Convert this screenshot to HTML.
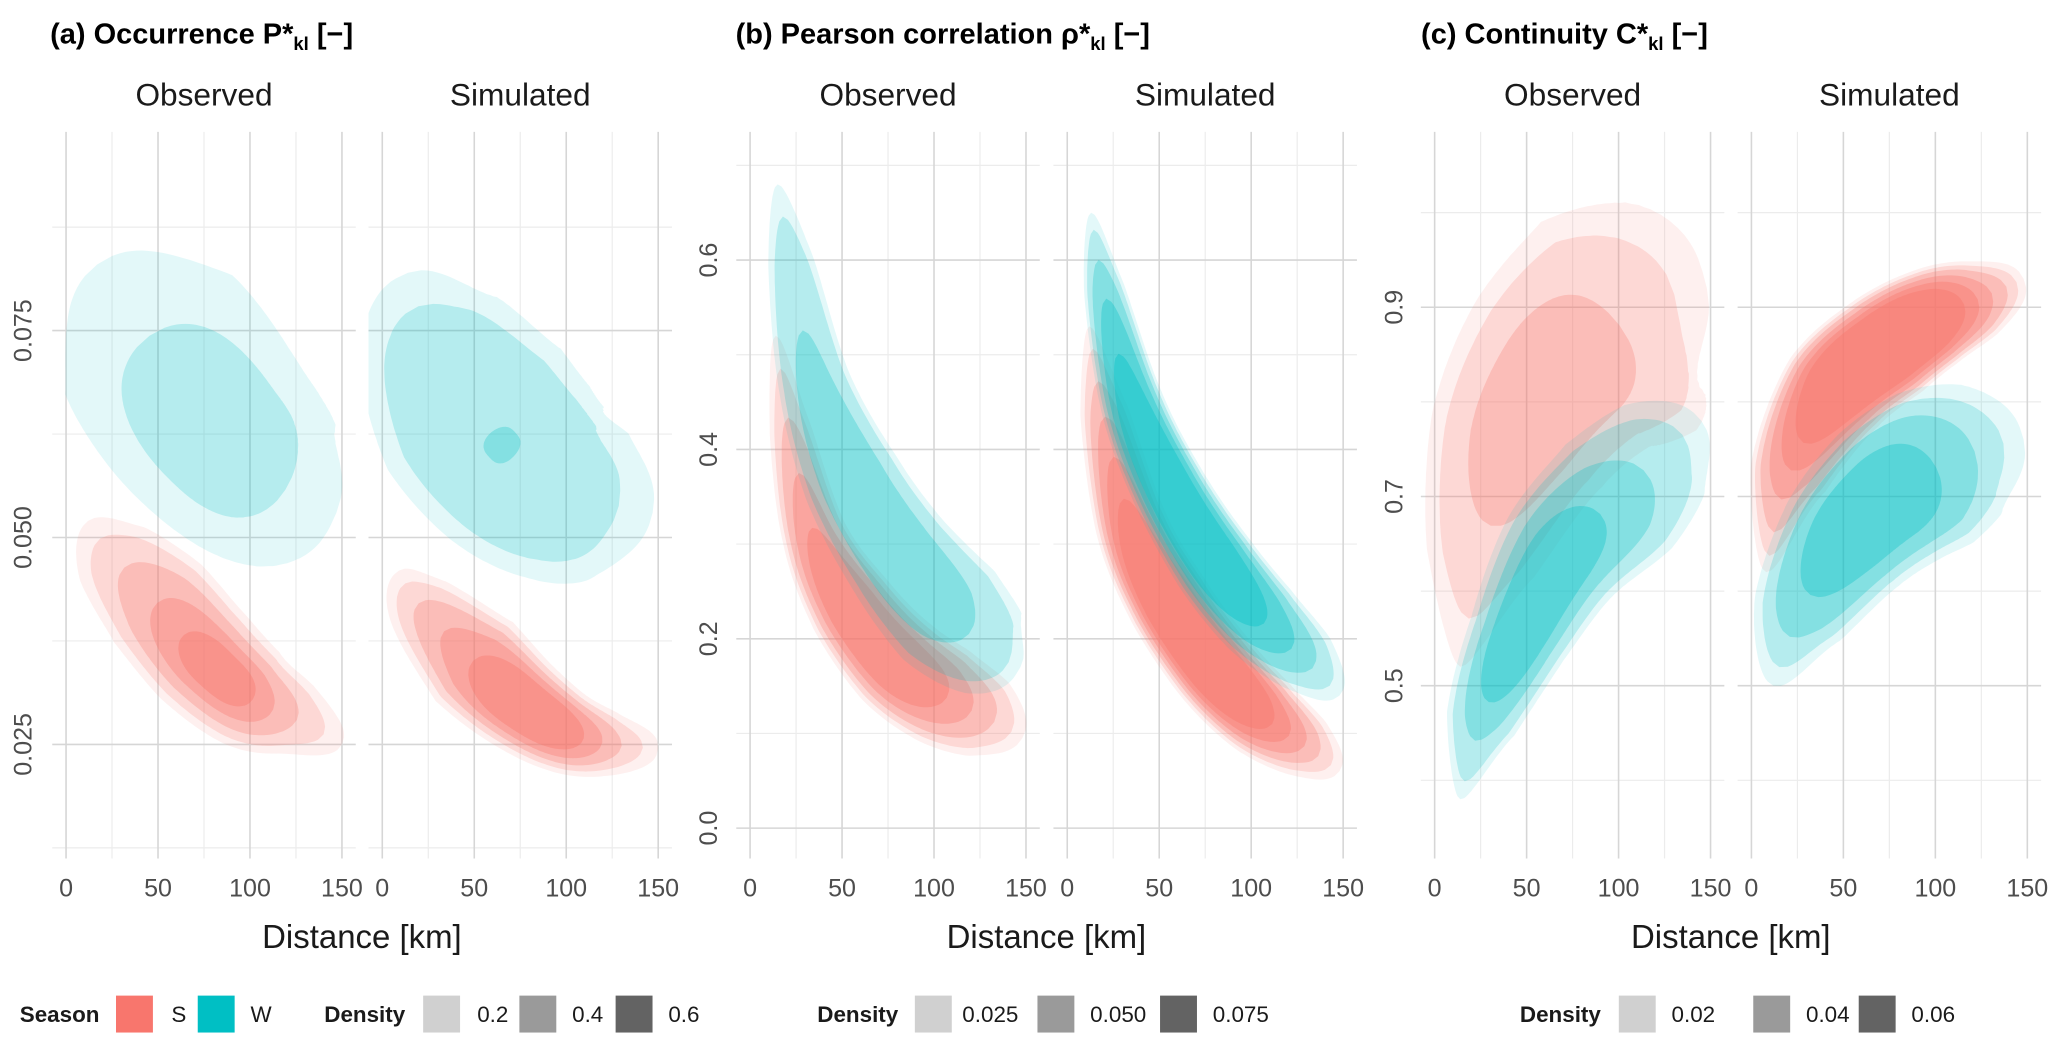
<!DOCTYPE html>
<html><head><meta charset="utf-8"><style>
html,body{margin:0;padding:0;background:#fff;}
svg{display:block;font-family:"Liberation Sans",Arial,sans-serif;}
</style></head><body>
<svg id="chart" width="2067" height="1051" viewBox="0 0 1568 797" preserveAspectRatio="none" xmlns="http://www.w3.org/2000/svg">
<rect x="0" y="0" width="1568" height="797" fill="#fff"/>
<g id="grid"></g><g id="marks"></g><g id="labels"></g>
<text x="38" y="33" font-size="22" font-weight="bold">(a) Occurrence P*<tspan font-size="14" dy="5">kl</tspan><tspan dy="-5"> [−]</tspan></text>
<text x="558" y="33" font-size="22" font-weight="bold">(b) Pearson correlation ρ*<tspan font-size="14" dy="5">kl</tspan><tspan dy="-5"> [−]</tspan></text>
<text x="1078" y="33" font-size="22" font-weight="bold">(c) Continuity C*<tspan font-size="14" dy="5">kl</tspan><tspan dy="-5"> [−]</tspan></text>
<g font-size="17" fill="#1a1a1a">
<text x="15" y="775" font-weight="bold">Season</text>
<rect x="88" y="755" width="28" height="28" fill="#F8766D"/>
<text x="130" y="775">S</text>
<rect x="150" y="755" width="28" height="28" fill="#00BFC4"/>
<text x="190" y="775">W</text>
<text x="246" y="775" font-weight="bold">Density</text>
<rect x="321" y="755" width="28" height="28" fill="#d0d0d0"/>
<text x="362" y="775">0.2</text>
<rect x="394" y="755" width="28" height="28" fill="#9a9a9a"/>
<text x="434" y="775">0.4</text>
<rect x="467" y="755" width="28" height="28" fill="#636363"/>
<text x="507" y="775">0.6</text>
<text x="620" y="775" font-weight="bold">Density</text>
<rect x="694" y="755" width="28" height="28" fill="#d0d0d0"/>
<text x="730" y="775">0.025</text>
<rect x="787" y="755" width="28" height="28" fill="#9a9a9a"/>
<text x="827" y="775">0.050</text>
<rect x="880" y="755" width="28" height="28" fill="#636363"/>
<text x="920" y="775">0.075</text>
<text x="1153" y="775" font-weight="bold">Density</text>
<rect x="1228" y="755" width="28" height="28" fill="#d0d0d0"/>
<text x="1268" y="775">0.02</text>
<rect x="1330" y="755" width="28" height="28" fill="#9a9a9a"/>
<text x="1370" y="775">0.04</text>
<rect x="1410" y="755" width="28" height="28" fill="#636363"/>
<text x="1450" y="775">0.06</text>
</g>
</svg>
<script>
// ---- data (distance km, value, half-width in value units, levels) ----
const xTicks = [0, 50, 100, 150];
const xMinor = [25, 75, 125];
const aTicks = [0.025, 0.050, 0.075];
const aTickLabels = ["0.025", "0.050", "0.075"];
const aMinor = [0.0125, 0.0375, 0.0625, 0.0875];
const bTicks = [0.0, 0.2, 0.4, 0.6];
const bTickLabels = ["0.0", "0.2", "0.4", "0.6"];
const bMinor = [0.1, 0.3, 0.5, 0.7];
const cTicks = [0.5, 0.7, 0.9];
const cTickLabels = ["0.5", "0.7", "0.9"];
const cMinor = [0.4, 0.6, 0.8, 1.0];

// Panel a observed
const aObsS_km = [12, 25, 50, 75, 100, 125, 150];
const aObsS_val = [0.052, 0.048, 0.042, 0.0355, 0.0307, 0.028, 0.025];
const aObsS_hw = [0.0035, 0.006, 0.0072, 0.0072, 0.0066, 0.0055, 0.0038];
const aObsS_lv = [1, 0.82, 0.62, 0.42, 0.25];
const aObsW_km = [17, 45, 75, 100, 125, 147];
const aObsW_val = [0.083, 0.0745, 0.065, 0.059, 0.055, 0.053];
const aObsW_hw = [0.009, 0.014, 0.013, 0.012, 0.011, 0.008];
const aObsW_lv = [1, 0.55];
// Panel a simulated
const aSimS_km = [9, 20, 50, 75, 100, 125, 150];
const aSimS_val = [0.046, 0.042, 0.035, 0.030, 0.0265, 0.025, 0.0245];
const aSimS_hw = [0.003, 0.005, 0.0068, 0.006, 0.0052, 0.0046, 0.0038];
const aSimS_lv = [1, 0.85, 0.7, 0.55, 0.4];
const aSimW_km = [14, 25, 50, 75, 100, 125, 147];
const aSimW_val = [0.082, 0.075, 0.0655, 0.059, 0.0554, 0.054, 0.053];
const aSimW_hw = [0.007, 0.011, 0.013, 0.0125, 0.0115, 0.0105, 0.007];
const aSimW_lv = [1, 0.75, 0.08];
// Panel b
const bObsS_km = [14, 22, 35, 55, 80, 105, 130, 148];
const bObsS_val = [0.52, 0.42, 0.31, 0.235, 0.175, 0.14, 0.115, 0.095];
const bObsS_hw = [0.014, 0.028, 0.036, 0.047, 0.054, 0.057, 0.055, 0.04];
const bObsS_lv = [1, 0.88, 0.75, 0.6, 0.45];
const bObsW_km = [15, 22, 35, 55, 80, 108, 132, 147];
const bObsW_val = [0.68, 0.60, 0.47, 0.37, 0.29, 0.225, 0.185, 0.17];
const bObsW_hw = [0.014, 0.03, 0.04, 0.053, 0.06, 0.07, 0.065, 0.04];
const bObsW_lv = [1, 0.85, 0.55];
const bSimS_km = [12, 20, 35, 55, 80, 105, 130, 148];
const bSimS_val = [0.53, 0.44, 0.32, 0.24, 0.17, 0.12, 0.085, 0.06];
const bSimS_hw = [0.013, 0.032, 0.04, 0.045, 0.047, 0.047, 0.043, 0.032];
const bSimS_lv = [1, 0.9, 0.8, 0.7, 0.6, 0.5];
const bSimW_km = [13, 20, 35, 55, 80, 105, 130, 148];
const bSimW_val = [0.65, 0.57, 0.45, 0.36, 0.28, 0.22, 0.175, 0.14];
const bSimW_hw = [0.013, 0.027, 0.035, 0.04, 0.045, 0.047, 0.045, 0.033];
const bSimW_lv = [1, 0.9, 0.78, 0.65, 0.5];
// Panel c
const cObsS_km = [14, 25, 45, 70, 100, 125, 148];
const cObsS_val = [0.52, 0.63, 0.75, 0.83, 0.88, 0.91, 0.92];
const cObsS_hw = [0.02, 0.07, 0.10, 0.12, 0.14, 0.13, 0.08];
const cObsS_lv = [1, 0.78, 0.45];
const cObsW_km = [14, 25, 45, 70, 100, 125, 145];
const cObsW_val = [0.38, 0.46, 0.55, 0.64, 0.70, 0.75, 0.78];
const cObsW_hw = [0.015, 0.045, 0.055, 0.07, 0.08, 0.075, 0.05];
const cObsW_lv = [1, 0.85, 0.62, 0.4];
const cSimS_km = [8, 20, 45, 75, 100, 125, 148];
const cSimS_val = [0.62, 0.72, 0.81, 0.86, 0.89, 0.91, 0.93];
const cSimS_hw = [0.02, 0.05, 0.06, 0.06, 0.055, 0.05, 0.04];
const cSimS_lv = [1, 0.92, 0.84, 0.74, 0.64, 0.54];
const cSimW_km = [12, 25, 50, 75, 100, 125, 148];
const cSimW_val = [0.50, 0.57, 0.65, 0.70, 0.73, 0.75, 0.76];
const cSimW_hw = [0.03, 0.06, 0.075, 0.085, 0.09, 0.085, 0.06];
const cSimW_lv = [1, 0.85, 0.68, 0.45];

const NS = "http://www.w3.org/2000/svg";
const PX_PER_KM = 209.3 / 150;
const TOP = 100, BOT = 651;
const ALPHAS = [0.11, 0.2, 0.27, 0.33, 0.38, 0.42];
const COL = { S: "#F8766D", W: "#00BFC4" };

function mk(tag, attrs, parent) {
  const e = document.createElementNS(NS, tag);
  for (const k in attrs) e.setAttribute(k, attrs[k]);
  parent.appendChild(e);
  return e;
}

function crSample(pts, n) {
  const out = [];
  const m = pts.length;
  for (let i = 0; i < m - 1; i++) {
    const p0 = pts[Math.max(0, i - 1)], p1 = pts[i], p2 = pts[i + 1], p3 = pts[Math.min(m - 1, i + 2)];
    for (let s = 0; s < n; s++) {
      const t = s / n, t2 = t * t, t3 = t2 * t;
      const f = (a, b, c, d) => 0.5 * (2 * b + (-a + c) * t + (2 * a - 5 * b + 4 * c - d) * t2 + (-a + 3 * b - 3 * c + d) * t3);
      out.push([f(p0[0], p1[0], p2[0], p3[0]), f(p0[1], p1[1], p2[1], p3[1]), p1[2] + (p2[2] - p1[2]) * t]);
    }
  }
  const l = pts[m - 1];
  out.push([l[0], l[1], l[2]]);
  return out;
}

function drawBlob(parent, name, kms, vals, hws, levels, peak, color, xs, ys) {
  const pxPerUnit = Math.abs(ys(1) - ys(0));
  const pts = kms.map((k, i) => [xs(k), ys(vals[i]), hws[i] * pxPerUnit]);
  const S = crSample(pts, 30);
  const N = S.length - 1;
  levels.forEach((f, li) => {
    const t0 = peak - peak * f, t1 = peak + (1 - peak) * f;
    const wf = Math.pow(f, 0.7);
    const up = [], lo = [];
    const steps = 120;
    for (let j = 0; j <= steps; j++) {
      const t = t0 + (t1 - t0) * j / steps;
      const idx = Math.min(N - 1, Math.max(0, Math.floor(t * N)));
      const fr = t * N - idx;
      const a = S[idx], b = S[idx + 1];
      const x = a[0] + (b[0] - a[0]) * fr, y = a[1] + (b[1] - a[1]) * fr, w0 = a[2] + (b[2] - a[2]) * fr;
      let dx = b[0] - a[0], dy = b[1] - a[1];
      const L = Math.hypot(dx, dy) || 1; dx /= L; dy /= L;
      const u = (j / steps) * 2 - 1;
      const w = w0 * wf * Math.sqrt(Math.max(0, 1 - Math.pow(Math.abs(u), 3)));
      up.push([x - dy * w, y + dx * w]);
      lo.push([x + dy * w, y - dx * w]);
    }
    const poly = up.concat(lo.reverse());
    const d = "M" + poly.map(p => p[0].toFixed(1) + "," + p[1].toFixed(1)).join("L") + "Z";
    const p = mk("path", { d: d, fill: color, "fill-opacity": ALPHAS[Math.min(li, ALPHAS.length - 1)] }, parent);
    
    
  });
}

const grid = document.getElementById("grid");
const marks = document.getElementById("marks");
const labels = document.getElementById("labels");

const panels = [
  { id: "a", x0: [50.1, 290], ys: v => 564.5 - (v - 0.025) * 6276, ticks: aTicks, tl: aTickLabels, minor: aMinor, ylx: 24,
    blobs: [[["S", aObsS_km, aObsS_val, aObsS_hw, aObsS_lv, 0.57], ["W", aObsW_km, aObsW_val, aObsW_hw, aObsW_lv, 0.45]],
            [["S", aSimS_km, aSimS_val, aSimS_hw, aSimS_lv, 0.55], ["W", aSimW_km, aSimW_val, aSimW_hw, aSimW_lv, 0.43]]] },
  { id: "b", x0: [569, 809.6], ys: v => 628 - v * 718, ticks: bTicks, tl: bTickLabels, minor: bMinor, ylx: 544,
    blobs: [[["S", bObsS_km, bObsS_val, bObsS_hw, bObsS_lv, 0.5], ["W", bObsW_km, bObsW_val, bObsW_hw, bObsW_lv, 0.5]],
            [["S", bSimS_km, bSimS_val, bSimS_hw, bSimS_lv, 0.5], ["W", bSimW_km, bSimW_val, bSimW_hw, bSimW_lv, 0.45]]] },
  { id: "c", x0: [1088.3, 1328.6], ys: v => 520 - (v - 0.5) * 717.5, ticks: cTicks, tl: cTickLabels, minor: cMinor, ylx: 1064,
    blobs: [[["S", cObsS_km, cObsS_val, cObsS_hw, cObsS_lv, 0.4], ["W", cObsW_km, cObsW_val, cObsW_hw, cObsW_lv, 0.35]],
            [["S", cSimS_km, cSimS_val, cSimS_hw, cSimS_lv, 0.5], ["W", cSimW_km, cSimW_val, cSimW_hw, cSimW_lv, 0.4]]] }
];

panels.forEach(P => {
  P.x0.forEach((x0, fi) => {
    const facet = fi === 0 ? "observed" : "simulated";
    const xs = k => x0 + k * PX_PER_KM;
    const left = xs(-7.5), right = xs(157.5);
    P.minor.forEach(v => {
      const l = mk("line", { x1: left, x2: right, y1: P.ys(v), y2: P.ys(v), stroke: "#ececec", "stroke-width": 0.9 }, grid);
      
      
    });
    xMinor.forEach(k => {
      const l = mk("line", { x1: xs(k), x2: xs(k), y1: TOP, y2: BOT, stroke: "#ececec", "stroke-width": 0.9 }, grid);
      
      
    });
    P.ticks.forEach(v => {
      const l = mk("line", { x1: left, x2: right, y1: P.ys(v), y2: P.ys(v), stroke: "#d6d6d6", "stroke-width": 1.2 }, grid);
      
      
    });
    xTicks.forEach(k => {
      const l = mk("line", { x1: xs(k), x2: xs(k), y1: TOP, y2: BOT, stroke: "#d6d6d6", "stroke-width": 1.2 }, grid);
      
      
      const t = mk("text", { x: xs(k), y: 680, "text-anchor": "middle", "font-size": 19, fill: "#4d4d4d" }, labels);
      t.textContent = String(k);
      
      
    });
    const cid = "clip-" + P.id + fi;
    const cp = mk("clipPath", { id: cid }, marks);
    mk("rect", { x: left, y: TOP, width: right - left, height: BOT - TOP }, cp);
    const g = mk("g", { "clip-path": "url(#" + cid + ")" }, marks);
    
    
    P.blobs[fi].forEach(b => drawBlob(g, "contour-" + P.id + "-" + facet + "-" + b[0].toLowerCase(), b[1], b[2], b[3], b[4], b[5], COL[b[0]], xs, P.ys));
    const st = mk("text", { x: xs(75), y: 80, "text-anchor": "middle", "font-size": 24, fill: "#1a1a1a" }, labels);
    st.textContent = fi === 0 ? "Observed" : "Simulated";
    
    
  });
  P.ticks.forEach((v, i) => {
    const t = mk("text", { x: P.ylx, y: P.ys(v), "text-anchor": "middle", "font-size": 19, fill: "#4d4d4d", transform: "rotate(-90 " + P.ylx + " " + P.ys(v) + ")" }, labels);
    t.textContent = P.tl[i];
    
    
  });
  const cx = (P.x0[0] - 10.5 + P.x0[1] + 219.5) / 2;
  const at = mk("text", { x: cx, y: 719, "text-anchor": "middle", "font-size": 25, fill: "#1a1a1a" }, labels);
  at.textContent = "Distance [km]";
  
  
});
</script>
</body></html>
